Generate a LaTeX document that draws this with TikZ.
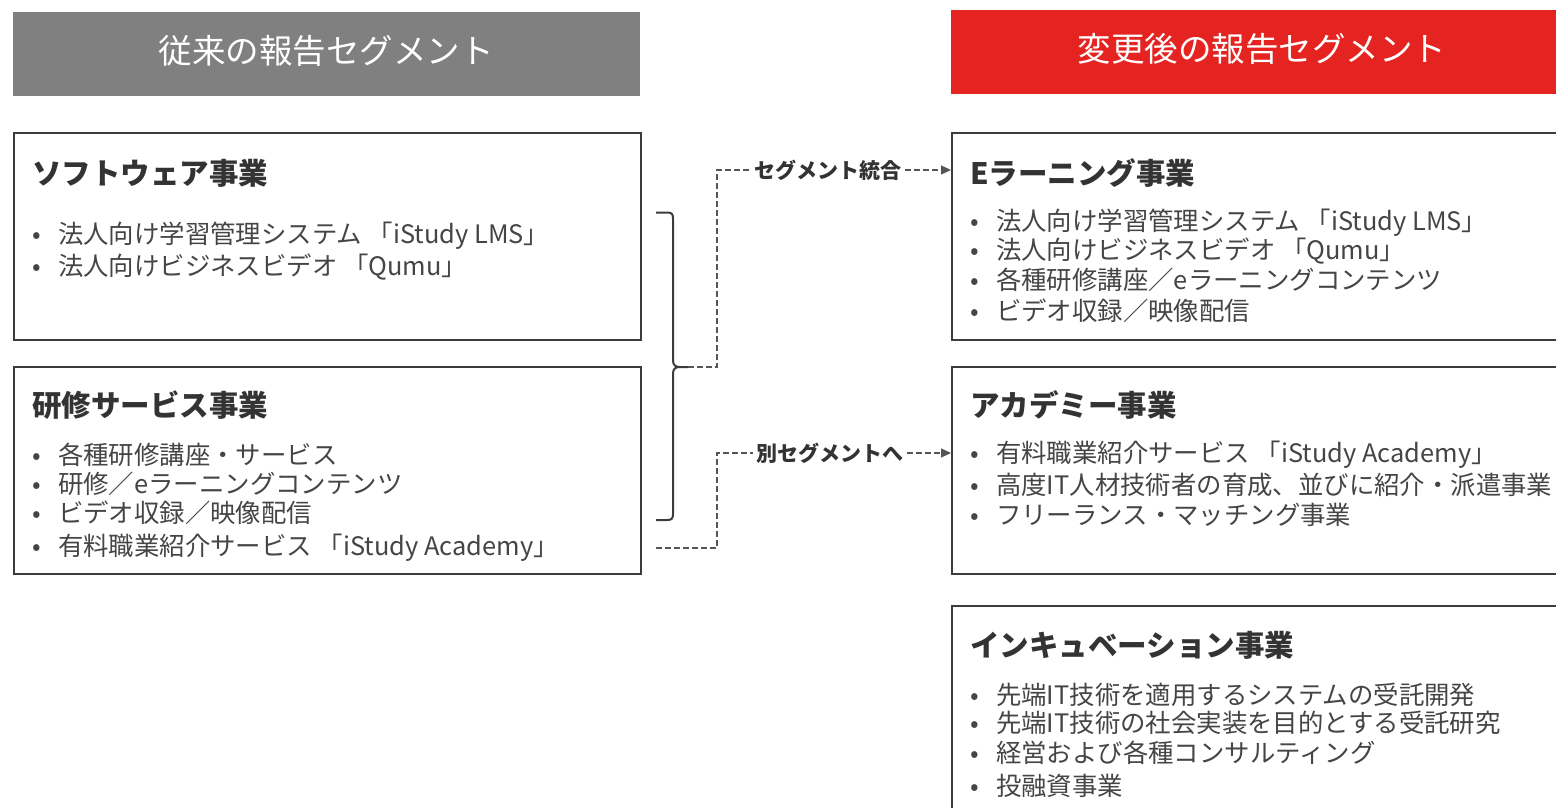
\documentclass[tikz,border=0pt]{standalone}
\usepackage{fontspec}
\setmainfont{Noto Sans CJK JP}
\usetikzlibrary{arrows.meta}
\definecolor{hdrgray}{HTML}{808080}
\definecolor{hdrred}{HTML}{E52421}
\definecolor{txt}{HTML}{454545}
\definecolor{ttl}{HTML}{333333}
\definecolor{frame}{HTML}{3C3C3C}
\definecolor{dash}{HTML}{555555}
\newcommand{\bl}[1]{\makebox[0pt][c]{•}\hspace{21.5pt}#1}
\begin{document}
\begin{tikzpicture}[x=1pt,y=-1pt,
  hdr/.style={anchor=north west,inner sep=0,draw=none,minimum height=84pt},
  hdrtext/.style={anchor=base,inner sep=0,text=white,font=\fontsize{33.5}{36}\selectfont},
  box/.style={anchor=north west,inner sep=0,draw=frame,line width=1.8pt,fill=white},
  ttlnode/.style={anchor=base west,inner sep=0,text=ttl,font=\bfseries\fontsize{29.5}{32}\selectfont},
  item/.style={anchor=base west,inner sep=0,text=txt,font=\fontsize{25.4}{30}\selectfont},
  lbl/.style={inner xsep=3pt,inner ysep=0,text=ttl,font=\bfseries\fontsize{21}{24}\selectfont},
  conn/.style={draw=dash,line width=1.2pt,dash pattern=on 6pt off 3pt},
  bracket/.style={draw=frame,line width=2pt,line join=round}]
\useasboundingbox (0,0) rectangle (1556,808);
\clip (0,0) rectangle (1556,808);

% headers
\node[hdr,fill=hdrgray,minimum width=627pt] (hl) at (13,12) {};
\node[hdrtext] (hlt) at (326,64) {従来の報告セグメント};
\node[hdr,fill=hdrred,minimum width=622pt] (hr) at (951,10) {};
\node[hdrtext] (hrt) at (1262,62) {変更後の報告セグメント};

% left boxes
\node[box,minimum width=627pt,minimum height=207pt] (sw) at (13,132) {};
\node[ttlnode] (swt) at (32,184) {ソフトウェア事業};
\node[item] (sw1) at (36.5,243) {\bl{法人向け学習管理システム 「iStudy LMS」}};
\node[item] (sw2) at (36.5,275) {\bl{法人向けビジネスビデオ 「Qumu」}};

\node[box,minimum width=627pt,minimum height=207pt] (ts) at (13,366) {};
\node[ttlnode] (tst) at (32,416) {研修サービス事業};
\node[item] (ts1) at (36.5,464) {\bl{各種研修講座・サービス}};
\node[item] (ts2) at (36.5,493) {\bl{研修／eラーニングコンテンツ}};
\node[item] (ts3) at (36.5,522) {\bl{ビデオ収録／映像配信}};
\node[item] (ts4) at (36.5,555) {\bl{有料職業紹介サービス 「iStudy Academy」}};

% right boxes
\node[box,minimum width=622pt,minimum height=207pt] (el) at (951,132) {};
\node[ttlnode] (elt) at (970,184) {Eラーニング事業};
\node[item] (el1) at (974.5,230) {\bl{法人向け学習管理システム 「iStudy LMS」}};
\node[item] (el2) at (974.5,259) {\bl{法人向けビジネスビデオ 「Qumu」}};
\node[item] (el3) at (974.5,289) {\bl{各種研修講座／eラーニングコンテンツ}};
\node[item] (el4) at (974.5,320) {\bl{ビデオ収録／映像配信}};

\node[box,minimum width=622pt,minimum height=207pt] (ac) at (951,366) {};
\node[ttlnode] (act) at (970,416) {アカデミー事業};
\node[item] (ac1) at (974.5,462) {\bl{有料職業紹介サービス 「iStudy Academy」}};
\node[item] (ac2) at (974.5,494) {\bl{高度IT人材技術者の育成、並びに紹介・派遣事業}};
\node[item] (ac3) at (974.5,524) {\bl{フリーランス・マッチング事業}};

\node[box,minimum width=622pt,minimum height=240pt] (ic) at (951,605) {};
\node[ttlnode] (ict) at (970,656) {インキュベーション事業};
\node[item] (ic1) at (974.5,704) {\bl{先端IT技術を適用するシステムの受託開発}};
\node[item] (ic2) at (974.5,732) {\bl{先端IT技術の社会実装を目的とする受託研究}};
\node[item] (ic3) at (974.5,762) {\bl{経営および各種コンサルティング}};
\node[item] (ic4) at (974.5,795) {\bl{投融資事業}};

% bracket
\coordinate (bt) at (688,367);
\coordinate (btop) at (656,212.5);
\coordinate (bbot) at (656,520);
\draw[bracket] (btop) -- (667,212.5) .. controls (672,212.5) and (673,214) .. (673,219)
  -- (673,360) .. controls (673,365) and (675,367) .. (680,367) -- (bt);
\draw[bracket] (bbot) -- (667,520) .. controls (672,520) and (673,518.5) .. (673,513.5)
  -- (673,374) .. controls (673,369) and (675,367) .. (680,367);

% connectors
\node[lbl] (l1) at (828,170) {セグメント統合};
\node[lbl] (l2) at (830,453) {別セグメントへ};
\coordinate (acs) at (656,548);
\draw[conn] (bt) -- (717,367) |- (l1.west);
\draw[conn,-{Triangle[length=10pt,width=9pt]}] (l1.east) -- (el.west |- l1.east);
\draw[conn] (acs) -- (717,548) |- (l2.west);
\draw[conn,-{Triangle[length=10pt,width=9pt]}] (l2.east) -- (ac.west |- l2.east);
\end{tikzpicture}
\end{document}
